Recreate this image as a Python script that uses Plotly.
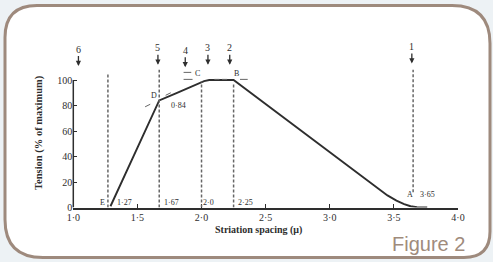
import plotly.graph_objects as go

# ---- data ----
curve_x = [1.29, 1.67, 1.8, 1.9, 1.97, 2.02, 2.06, 2.25, 3.45, 3.52, 3.58, 3.63, 3.68, 3.76]
curve_y = [1, 84, 89.5, 94, 97.3, 99.2, 100, 100, 9.5, 5.4, 2.7, 1.0, 0.2, 0]

dash_x = [1.27, 1.67, 2.0, 2.25, 3.65]
dash_top = [105, 108, 99, 98, 108]
dash_bottom = [0, 0, 0, 0, 12]

arrow_labels = ["6", "5", "4", "3", "2", "1"]
arrow_x = [1.04, 1.66, 1.873, 2.05, 2.22, 3.64]
arrow_tip = [111, 112, 110, 112, 112, 113]

point_labels = ["E", "1·27", "1·67", "2·0", "2·25", "A", "3·65", "D", "0·84", "C", "B"]
point_x = [1.225, 1.40, 1.765, 2.055, 2.345, 3.625, 3.765, 1.63, 1.82, 1.965, 2.275]
point_y = [4, 4, 4, 4, 4, 10.5, 10.5, 88, 80, 105.5, 105]

x_ticks = [1.0, 1.5, 2.0, 2.5, 3.0, 3.5, 4.0]
x_ticktext = ["1·0", "1·5", "2·0", "2·5", "3·0", "3·5", "4·0"]
y_ticks = [0, 20, 40, 60, 80, 100]
y_ticktext = ["0", "20", "40", "60", "80", "100"]

W, H = 493, 262
def px(x):
    return x / W
def py(y):
    return 1 - y / H

ink = "#2e2e2e"
serif = "Liberation Serif"

fig = go.Figure()
fig.add_trace(go.Scatter(x=curve_x, y=curve_y, mode="lines",
                         line=dict(color=ink, width=1.9),
                         hoverinfo="skip", showlegend=False))

shapes = []
# frame (rounded rectangle)
L, T, R, B = 5, 5.5, 490, 257.5
rtl, rtr, rbl, rbr = 32, 38, 38, 26
path = (f"M {px(L+rtl)},{py(T)} L {px(R-rtr)},{py(T)} Q {px(R)},{py(T)} {px(R)},{py(T+rtr)} "
        f"L {px(R)},{py(B-rbr)} Q {px(R)},{py(B)} {px(R-rbr)},{py(B)} "
        f"L {px(L+rbl)},{py(B)} Q {px(L)},{py(B)} {px(L)},{py(B-rbl)} "
        f"L {px(L)},{py(T+rtl)} Q {px(L)},{py(T)} {px(L+rtl)},{py(T)} Z")
shapes.append(dict(type="path", path=path, xref="paper", yref="paper",
                   line=dict(color="#9e8a7d", width=3), fillcolor="white", layer="below"))
# y axis line
shapes.append(dict(type="line", xref="paper", yref="y", x0=px(73.3), x1=px(73.3), y0=0, y1=100,
                   line=dict(color=ink, width=1.5)))
# dashed verticals
for xv, t, b in zip(dash_x, dash_top, dash_bottom):
    shapes.append(dict(type="line", xref="x", yref="y", x0=xv, x1=xv, y0=b, y1=t,
                       line=dict(color="#666", width=1.5, dash="3px,2px")))
# small tangent dashes
for (x0, y0, x1, y1) in [(1.86, 100.5, 1.93, 100.5), (2.1, 100.5, 2.14, 100.5),
                         (2.16, 100.5, 2.2, 100.5), (2.3, 100.5, 2.36, 100.5),
                         (1.56, 79, 1.6, 81), (1.72, 88, 1.76, 90),
                         (1.86, 106, 1.92, 106)]:
    shapes.append(dict(type="line", xref="x", yref="y", x0=x0, x1=x1, y0=y0, y1=y1,
                       line=dict(color="#666", width=1)))

annotations = []
for lab, xv, tip in zip(arrow_labels, arrow_x, arrow_tip):
    annotations.append(dict(x=xv, y=tip, xref="x", yref="y", text=lab, showarrow=True,
                            ax=0, ay=-17, arrowhead=2, arrowsize=0.8, arrowwidth=1.3,
                            arrowcolor=ink, font=dict(family=serif, size=10, color=ink)))
for lab, xv, yv in zip(point_labels, point_x, point_y):
    annotations.append(dict(x=xv, y=yv, xref="x", yref="y", text=lab, showarrow=False,
                            xanchor="center", yanchor="middle",
                            font=dict(family=serif, size=8, color=ink)))
annotations.append(dict(x=px(39), y=py(133), xref="paper", yref="paper",
                        text="<b>Tension (% of maximum)</b>", textangle=-90, showarrow=False,
                        xanchor="center", yanchor="middle",
                        font=dict(family=serif, size=10.5, color=ink)))
annotations.append(dict(x=px(258), y=py(230), xref="paper", yref="paper",
                        text="<b>Striation spacing (μ)</b>", showarrow=False,
                        xanchor="center", yanchor="middle",
                        font=dict(family=serif, size=10, color=ink)))
annotations.append(dict(x=px(428), y=py(244), xref="paper", yref="paper",
                        text="Figure 2", showarrow=False,
                        xanchor="center", yanchor="middle",
                        font=dict(family="Liberation Sans", size=20, color="#a08b7c")))

fig.update_layout(
    width=W, height=H, margin=dict(l=0, r=0, t=0, b=0, autoexpand=False),
    paper_bgcolor="#edf2f5", plot_bgcolor="rgba(0,0,0,0)",
    shapes=shapes, annotations=annotations, showlegend=False,
    xaxis=dict(domain=[px(73.3), px(458)], range=[1.0, 4.0], tickvals=x_ticks,
               ticktext=x_ticktext, ticks="inside", ticklen=4, tickcolor=ink,
               showline=True, linecolor=ink, linewidth=1.5, showgrid=False, zeroline=False,
               automargin=False,
               tickfont=dict(family=serif, size=10, color=ink)),
    yaxis=dict(domain=[py(207.5), py(40)], range=[0, 131.4], tickvals=y_ticks,
               ticktext=y_ticktext, ticks="inside", ticklen=4, tickcolor=ink,
               showline=False, showgrid=False, zeroline=False, automargin=False,
               tickfont=dict(family=serif, size=10, color=ink)),
)

fig.write_html("out.html", config={"displayModeBar": False},
               post_script="document.body.style.margin='0px';document.body.style.overflow='hidden';")
